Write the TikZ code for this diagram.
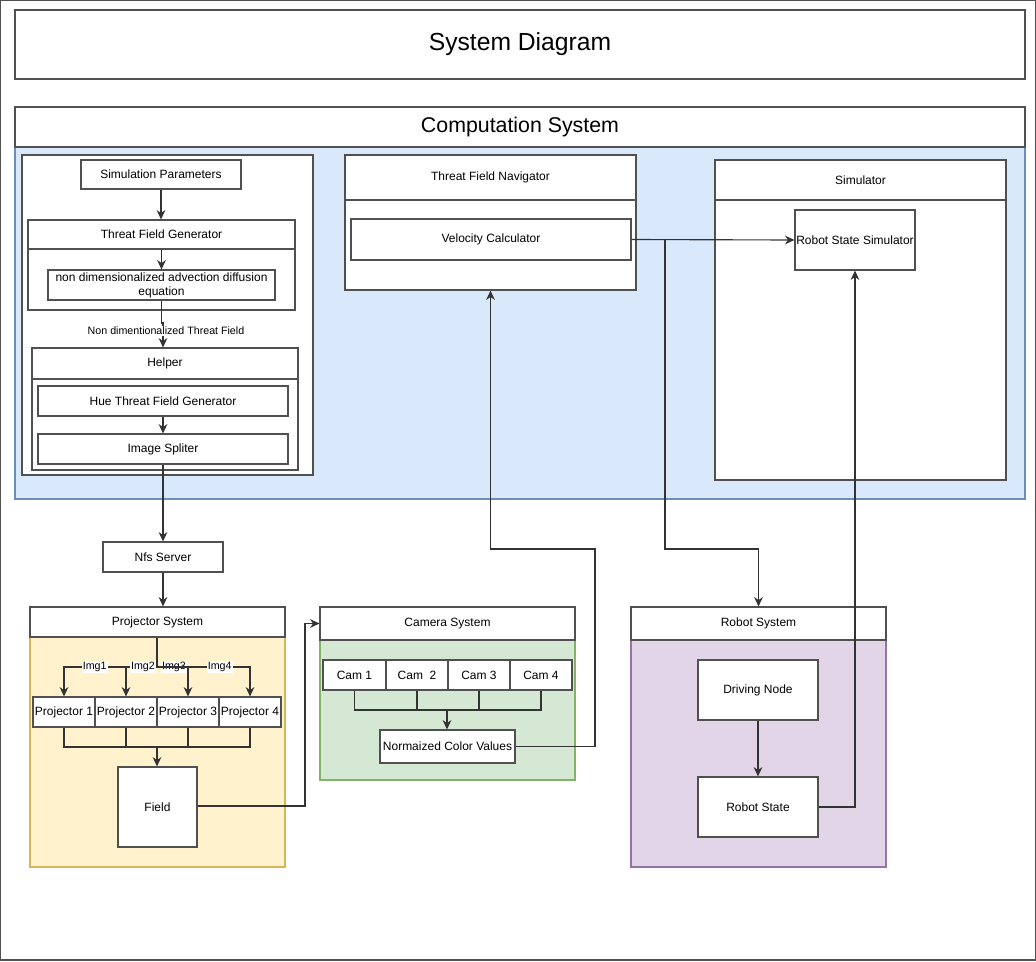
\documentclass[tikz,border=0pt]{standalone}
\usepackage{fontspec}
\setmainfont{Liberation Sans}
\usetikzlibrary{arrows.meta,calc}
\definecolor{lc}{HTML}{505050}
\definecolor{ac}{HTML}{333333}
\definecolor{bfill}{HTML}{DAE8FC}
\definecolor{bstroke}{HTML}{6C8EBF}
\definecolor{yfill}{HTML}{FFF2CC}
\definecolor{ystroke}{HTML}{D6B656}
\definecolor{gfill}{HTML}{D5E8D4}
\definecolor{gstroke}{HTML}{82B366}
\definecolor{pfill}{HTML}{E1D5E7}
\definecolor{pstroke}{HTML}{9673A6}
\newcommand\mynormal{\fontsize{9}{10.5}\selectfont}
\newcommand\mysmall{\fontsize{8}{9.5}\selectfont}
\newcommand\mytitle{\fontsize{18.5}{22}\selectfont}
\newcommand\mycomp{\fontsize{16}{19}\selectfont}
\tikzset{
  rb/.style={draw=lc, line width=0.85pt, fill=white, inner sep=0pt, font=\mynormal, align=center},
  arr/.style={draw=ac, line width=0.85pt, -{Stealth[length=7pt,width=6.5pt,inset=2.2pt]}},
  ln/.style={draw=ac, line width=0.85pt},
  lbl/.style={fill=white, inner sep=0.8pt, font=\mysmall},
}
\newcommand\rbox[7][]{%
  \pgfmathsetmacro\bw{(#5-#3)*0.75}%
  \pgfmathsetmacro\bh{(#6-#4)*0.75}%
  \node[rb,#1,minimum width=\bw pt,minimum height=\bh pt] (#2) at ({(#3+#5)/2},{(#4+#6)/2}) {#7};}
\begin{document}
\begin{tikzpicture}[x=0.75pt,y=-0.75pt]
\useasboundingbox (0,0) rectangle (1036,961);
% outer frame and title
\rbox{outer}{0.6}{0.6}{1035.4}{960}{}
\rbox[font=\mytitle]{title}{15}{10}{1025}{79}{System Diagram}
% computation system
\rbox[fill=bfill,draw=bstroke]{compB}{15}{147}{1025}{499}{}
\rbox[font=\mycomp]{compH}{15}{107}{1025}{147}{Computation System}
% left panel
\rbox{leftP}{22}{155}{313}{475}{}
\rbox{sim}{81}{160}{241}{189}{Simulation Parameters}
\rbox{tfgB}{28}{249}{295}{310}{}
\rbox{tfgH}{28}{220}{295}{249}{Threat Field Generator}
\rbox{nde}{48}{270}{275}{300}{non dimensionalized advection diffusion\\equation}
\rbox{helB}{32}{379}{298}{470}{}
\rbox{helH}{32}{348}{298}{379}{Helper}
\rbox{hue}{38}{386}{288}{416}{Hue Threat Field Generator}
\rbox{split}{38}{434}{288}{464}{Image Spliter}
% threat field navigator
\rbox{tfn}{345}{155}{636}{290}{}
\rbox{tfnH}{345}{155}{636}{200}{Threat Field Navigator}
\rbox{vc}{351}{219}{631}{260}{Velocity Calculator}
% simulator
\rbox{simB}{715}{160}{1006}{480}{}
\rbox{simH}{715}{160}{1006}{200}{Simulator}
\rbox{rss}{795}{210}{915}{270}{Robot State Simulator}
% nfs
\rbox{nfs}{103}{542}{223}{572}{Nfs Server}
% projector system
\rbox[fill=yfill,draw=ystroke]{projB}{30}{637}{285}{867}{}
\rbox{projH}{30}{607}{285}{637}{Projector System}
\rbox{p1}{33}{697}{95}{727}{Projector 1}
\rbox{p2}{95}{697}{157}{727}{Projector 2}
\rbox{p3}{157}{697}{219}{727}{Projector 3}
\rbox{p4}{219}{697}{281}{727}{Projector 4}
\rbox{field}{118}{767}{197}{847}{Field}
% camera system
\rbox[fill=gfill,draw=gstroke]{camB}{320}{640}{575}{780}{}
\rbox{camH}{320}{607}{575}{640}{Camera System}
\rbox{c1}{323}{660}{386}{690}{Cam 1}
\rbox{c2}{386}{660}{448}{690}{Cam~~2}
\rbox{c3}{448}{660}{510}{690}{Cam 3}
\rbox{c4}{510}{660}{572}{690}{Cam 4}
\rbox{ncv}{380}{730}{515}{763}{Normaized Color Values}
% robot system
\rbox[fill=pfill,draw=pstroke]{robB}{631}{640}{886}{867}{}
\rbox{robH}{631}{607}{886}{640}{Robot System}
\rbox{dn}{698}{660}{818}{720}{Driving Node}
\rbox{rs}{698}{777}{818}{837}{Robot State}
% ---------- connectors ----------
\draw[arr] (sim.south) -- (sim.south |- tfgH.north);
\draw[arr] (tfgH.south -| nde.north) -- (nde.north);
\coordinate (j1) at (163,323);
\draw[arr] (nde.south) |- (j1) -- (j1 |- helH.north);
\node[lbl] (ndlbl) at (166,331) {Non dimentionalized Threat Field};
\draw[arr] (hue.south) -- (split.north);
\draw[arr] (split.south) -- (split.south |- nfs.north);
\draw[arr] (nfs.south) -- (nfs.south |- projH.north);
% projector fan-out
\coordinate (pf) at (157,667);
\draw[arr] (pf) -| node[lbl, pos=0.335] {Img1} (p1.north);
\draw[arr] (pf) -| node[lbl, pos=0.226] {Img2} (p2.north);
\draw[arr] (pf) -| node[lbl, pos=0.274] {Img3} (p3.north);
\draw[arr] (pf) -| node[lbl, pos=0.337] {Img4} (p4.north);
\draw[ln, line width=1.3pt] (projH.south -| pf) -- (pf);
% projector merge
\coordinate (pm) at (157,747);
\draw[ln] (p1.south) |- (pm);
\draw[ln] (p2.south) |- (pm);
\draw[ln] (p3.south) |- (pm);
\draw[ln] (p4.south) |- (pm);
\draw[arr] (pm) -- (pm |- field.north);
% field to camera
\coordinate (fc) at (305,806);
\draw[arr] (field.east |- fc) -- (fc) |- (camH.west);
% camera merge
\coordinate (cm) at (447,710);
\draw[ln] (c1.south) |- (cm);
\draw[ln] (c2.south) |- (cm);
\draw[ln] (c3.south) |- (cm);
\draw[ln] (c4.south) |- (cm);
\draw[arr] (cm) -- (cm |- ncv.north);
% ncv to navigator
\coordinate (n1) at (595,549);
\draw[arr] (ncv.east) -| (n1) -| (tfn.south);
% velocity calculator outputs
\draw[arr] (vc.east) -- (rss.west);
\coordinate (v1) at (665,549);
\draw[arr] (vc.east) -| (v1) -| (robH.north);
% robot system
\draw[arr] (dn.south) -- (rs.north);
\draw[arr] (rs.east) -| (rss.south);
\end{tikzpicture}
\end{document}
